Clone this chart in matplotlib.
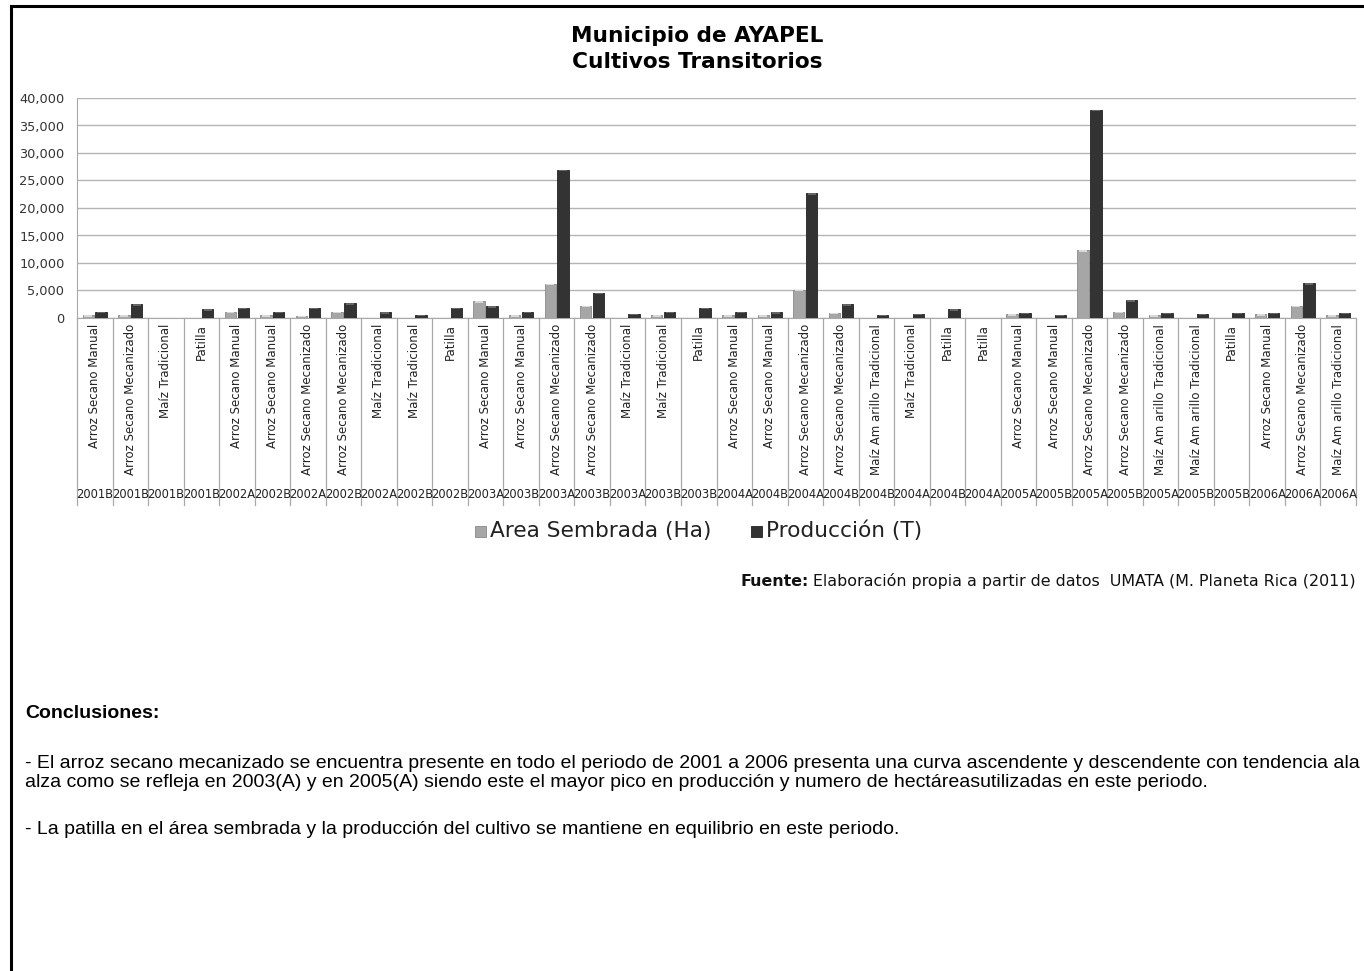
import matplotlib
matplotlib.use("Agg")
import matplotlib.pyplot as plt
from matplotlib.lines import Line2D
from matplotlib.patches import Rectangle
import matplotlib.transforms as mtransforms
import numpy as np

cultivos = [
    "Arroz Secano Manual", "Arroz Secano Mecanizado", "Maíz Tradicional", "Patilla",
    "Arroz Secano Manual", "Arroz Secano Manual", "Arroz Secano Mecanizado", "Arroz Secano Mecanizado",
    "Maíz Tradicional", "Maíz Tradicional", "Patilla",
    "Arroz Secano Manual", "Arroz Secano Manual", "Arroz Secano Mecanizado", "Arroz Secano Mecanizado",
    "Maíz Tradicional", "Maíz Tradicional", "Patilla",
    "Arroz Secano Manual", "Arroz Secano Manual", "Arroz Secano Mecanizado", "Arroz Secano Mecanizado",
    "Maíz Am arillo Tradicional", "Maíz Tradicional", "Patilla", "Patilla",
    "Arroz Secano Manual", "Arroz Secano Manual", "Arroz Secano Mecanizado", "Arroz Secano Mecanizado",
    "Maíz Am arillo Tradicional", "Maíz Am arillo Tradicional", "Patilla",
    "Arroz Secano Manual", "Arroz Secano Mecanizado", "Maíz Am arillo Tradicional",
]
periodos = [
    "2001B", "2001B", "2001B", "2001B",
    "2002A", "2002B", "2002A", "2002B", "2002A", "2002B", "2002B",
    "2003A", "2003B", "2003A", "2003B", "2003A", "2003B", "2003B",
    "2004A", "2004B", "2004A", "2004B", "2004B", "2004A", "2004B", "2004A",
    "2005A", "2005B", "2005A", "2005B", "2005A", "2005B", "2005B",
    "2006A", "2006A", "2006A",
]
area_ha = [
    500, 500, 0, 0,
    1100, 500, 450, 1100, 0, 0, 0,
    3000, 500, 6200, 2200, 0, 500, 0,
    500, 500, 5100, 900, 0, 0, 0, 0,
    700, 0, 12300, 1100, 500, 0, 0,
    700, 2200, 500,
]
produccion_t = [
    1100, 2500, 0, 1600,
    1900, 1100, 1900, 2700, 1000, 600, 1800,
    2100, 1100, 26900, 4600, 800, 1100, 1800,
    1100, 1000, 22700, 2500, 600, 800, 1600, 0,
    900, 600, 37800, 3200, 900, 800, 900,
    900, 6300, 900,
]
yticks = [0, 5000, 10000, 15000, 20000, 25000, 30000, 35000, 40000]

W, H = 1364, 971
fig = plt.figure(figsize=(W / 100, H / 100), dpi=100)
fig.patch.set_facecolor("white")

def fx(px):
    return px / W

def fy(py):
    return 1 - py / H

# outer frame (left and top visible)
fig.add_artist(Line2D([fx(11), fx(11)], [fy(6), fy(971)], color="black", lw=2.2))
fig.add_artist(Line2D([fx(11), fx(1364)], [fy(6), fy(6)], color="black", lw=2.2))

ax_l, ax_r, ax_t, ax_b = 77, 1356, 98, 318
ax = fig.add_axes([fx(ax_l), fy(ax_b), fx(ax_r - ax_l), (ax_b - ax_t) / H])

x = np.arange(len(cultivos))
bw = 0.32
off = 0.18
ax.bar(x - off, area_ha, width=bw, color="#a6a6a6", edgecolor="#8a8a8a", lw=0.6, zorder=3)
ax.bar(x + off, produccion_t, width=bw, color="#333333", edgecolor="#222222", lw=0.6, zorder=3)
# small bevel highlight near bar tops
for xi, v in zip(x, area_ha):
    if v > 0:
        hh = min(v, 250)
        ax.bar(xi - off, hh, bottom=v - hh, width=bw * 0.7, color="#d8d8d8", lw=0, zorder=4)
for xi, v in zip(x, produccion_t):
    if v > 0:
        hh = min(v, 250)
        ax.bar(xi + off, hh, bottom=v - hh, width=bw * 0.7, color="#666666", lw=0, zorder=4)

ax.set_xlim(-0.5, len(cultivos) - 0.5)
ax.set_ylim(0, 40000)
ax.set_yticks(yticks)
ax.set_yticklabels([f"{v:,}" for v in yticks], fontsize=9.3, color="#333333")
ax.tick_params(axis="y", length=0, pad=9)
ax.tick_params(axis="x", length=0)
ax.set_xticks([])
ax.grid(axis="y", color="#b4b4b4", lw=1.0, zorder=0)
for s in ["top", "right"]:
    ax.spines[s].set_visible(False)
ax.spines["left"].set_color("#a8a8a8")
ax.spines["bottom"].set_color("#a8a8a8")

trans = mtransforms.blended_transform_factory(ax.transData, ax.transAxes)
ylow = (ax_b - 505) / (ax_b - ax_t)
for b in np.arange(-0.5, len(cultivos), 1.0):
    ax.add_artist(Line2D([b, b], [0, ylow], transform=trans, color="#a8a8a8",
                         lw=0.9, clip_on=False))
y_lab = (ax_b - 324) / (ax_b - ax_t)
y_per = (ax_b - 495) / (ax_b - ax_t)
for xi, c, p in zip(x, cultivos, periodos):
    ax.text(xi, y_lab, c, rotation=90, ha="center", va="top", fontsize=8.5,
            color="#222222", transform=trans, clip_on=False)
    ax.text(xi, y_per, p, ha="center", va="center", fontsize=8.3,
            color="#222222", transform=trans, clip_on=False)

# title
fig.text(fx(697), fy(36), "Municipio de AYAPEL", ha="center", va="center",
         fontsize=15.6, fontweight="bold")
fig.text(fx(697), fy(62), "Cultivos Transitorios", ha="center", va="center",
         fontsize=15.6, fontweight="bold")

# legend
fig.add_artist(Rectangle((fx(475), fy(537)), 11 / W, 11 / H, facecolor="#a6a6a6",
                         edgecolor="#888888", lw=0.6))
fig.text(fx(490), fy(531), "Area Sembrada (Ha)", ha="left", va="center", fontsize=15.6,
         color="#222222")
fig.add_artist(Rectangle((fx(751), fy(537)), 11 / W, 11 / H, facecolor="#333333",
                         edgecolor="#222222", lw=0.6))
fig.text(fx(766), fy(531), "Producción (T)", ha="left", va="center", fontsize=15.6,
         color="#222222")

# source
fig.canvas.draw()
r = fig.canvas.get_renderer()
t_norm = fig.text(fx(1356), fy(581), " Elaboración propia a partir de datos  UMATA (M. Planeta Rica (2011)",
                  ha="right", va="center", fontsize=11.4, color="#111111")
bb = t_norm.get_window_extent(renderer=r)
fig.text(bb.x0 / W, fy(581), "Fuente:", ha="right", va="center", fontsize=11.4,
         fontweight="bold", color="#111111")

# conclusions
cf = "Liberation Sans"
fig.text(fx(25), fy(713), "Conclusiones:", ha="left", va="center", fontsize=14,
         fontweight="bold", family=cf)
fig.text(fx(25), fy(764),
         "- El arroz secano mecanizado se encuentra presente en todo el periodo de 2001 a 2006 presenta una curva ascendente y descendente con tendencia ala",
         ha="left", va="center", fontsize=14, family=cf)
fig.text(fx(25), fy(782),
         "alza como se refleja en 2003(A) y en 2005(A) siendo este el mayor pico en producción y numero de hectáreasutilizadas en este periodo.",
         ha="left", va="center", fontsize=14, family=cf)
fig.text(fx(25), fy(829),
         "- La patilla en el área sembrada y la producción del cultivo se mantiene en equilibrio en este periodo.",
         ha="left", va="center", fontsize=14, family=cf)

fig.savefig("out.png", dpi=100)
